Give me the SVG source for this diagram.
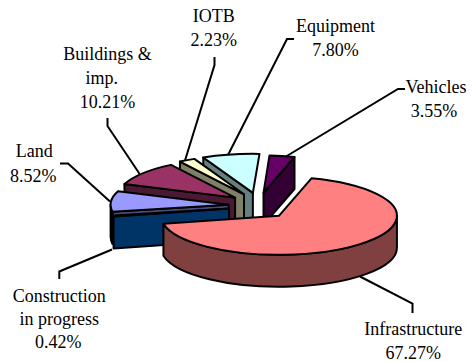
<svg xmlns="http://www.w3.org/2000/svg" width="472" height="362" viewBox="0 0 472 362">
<style>
.s{stroke:#000;stroke-width:2;stroke-linejoin:round}
.ld{fill:none;stroke:#000;stroke-width:2}
text{font-family:"Liberation Serif","Times New Roman",serif;font-size:18px;fill:#000;text-anchor:middle}
</style>
<rect width="472" height="362" fill="#fff"/>
<g id="vehicles">
<path class="s" fill="#330033" d="M263.51,192.79 L294.5,157 L294.5,189 L263.51,224.79 Z"/>
<path class="s" fill="#660066" d="M263.51,192.79 L269.5,155.5 A118 39 0 0 1 294.5,157 Z"/>
</g>
<g id="equipment">
<path class="s" fill="#668080" d="M252.87,192.84 L203.26,157.45 L203.26,189.45 L252.87,224.84 Z"/>
<path class="s" fill="#CCFFFF" d="M252.87,192.84 L203.26,157.45 A118 39 0 0 1 259.50,153.90 Z"/>
</g>
<g id="iotb">
<path class="s" fill="#808066" d="M244.01,194.27 L179.94,161.52 L179.94,193.52 L244.01,226.27 Z"/>
<path class="s" fill="#FFFFCC" d="M244.01,194.27 L179.94,161.52 A118 39 0 0 1 194.40,158.88 Z"/>
</g>
<g id="buildings">
<path class="s" fill="#4C1933" d="M235.10,197.62 L124.46,184.06 L124.46,216.06 L235.10,229.62 Z"/>
<path class="s" fill="#993366" d="M235.10,197.62 L124.46,184.06 A118 39 0 0 1 171.03,164.87 Z"/>
</g>
<g id="land">
<path class="s" fill="#4C4C80" d="M228.61,204.83 L112.52,211.82 L112.52,243.82 L228.61,236.83 Z"/>
<path class="s" fill="#4C4C80" d="M112.52,211.82 A118 39 0 0 1 110.61,204.83 L110.61,236.83 A118 39 0 0 0 112.52,243.82 Z"/>
<path class="s" fill="#9999FF" d="M228.61,204.83 L112.52,211.82 A118 39 0 0 1 117.97,191.27 Z"/>
</g>
<g id="construction">
<path class="s" fill="#003366" d="M229.06,208.57 L113.56,216.57 L113.56,248.57 L229.06,240.57 Z"/>
<path class="s" fill="#0066CC" d="M229.06,208.57 L113.56,216.57 A118 39 0 0 1 112.97,215.56 Z"/>
</g>
<g id="infrastructure">
<path class="s" fill="#804040" d="M396.93,215.81 A118 39 0 0 1 163.43,223.81 L163.43,255.81 A118 39 0 0 0 396.93,247.81 Z"/>
<path class="s" fill="#FF8080" d="M278.93,215.81 L311.45,178.32 A118 39 0 1 1 163.43,223.81 Z"/>
</g>
<g id="connectors">
<polyline class="ld" points="405,89 398,89 286,156.5"/>
<polyline class="ld" points="294,39 287,39 228,155"/>
<polyline class="ld" points="214.5,57 214.5,65 185,160.5"/>
<polyline class="ld" points="107.5,118 107.5,126 140,174.5"/>
<polyline class="ld" points="60,163.5 68,163.5 110,201.5"/>
<polyline class="ld" points="59.3,279 59.3,271.5 112,249.5"/>
<polyline class="ld" points="360,276.5 412.5,303.5 412.5,313"/>
</g>
<g id="labels">
<text x="213.8" y="21.5">IOTB</text>
<text x="213.8" y="45.5">2.23%</text>
<text x="335.5" y="32">Equipment</text>
<text x="335.5" y="56">7.80%</text>
<text x="436" y="93">Vehicles</text>
<text x="434" y="117">3.55%</text>
<text x="107.5" y="60">Buildings &amp;</text>
<text x="101.7" y="84">imp.</text>
<text x="107.5" y="108">10.21%</text>
<text x="34.3" y="157">Land</text>
<text x="33.3" y="181.5">8.52%</text>
<text x="59.2" y="301.5">Construction</text>
<text x="59.2" y="324.5">in progress</text>
<text x="58.3" y="348">0.42%</text>
<text x="413.3" y="335">Infrastructure</text>
<text x="413.3" y="358.5">67.27%</text>
</g>
</svg>
